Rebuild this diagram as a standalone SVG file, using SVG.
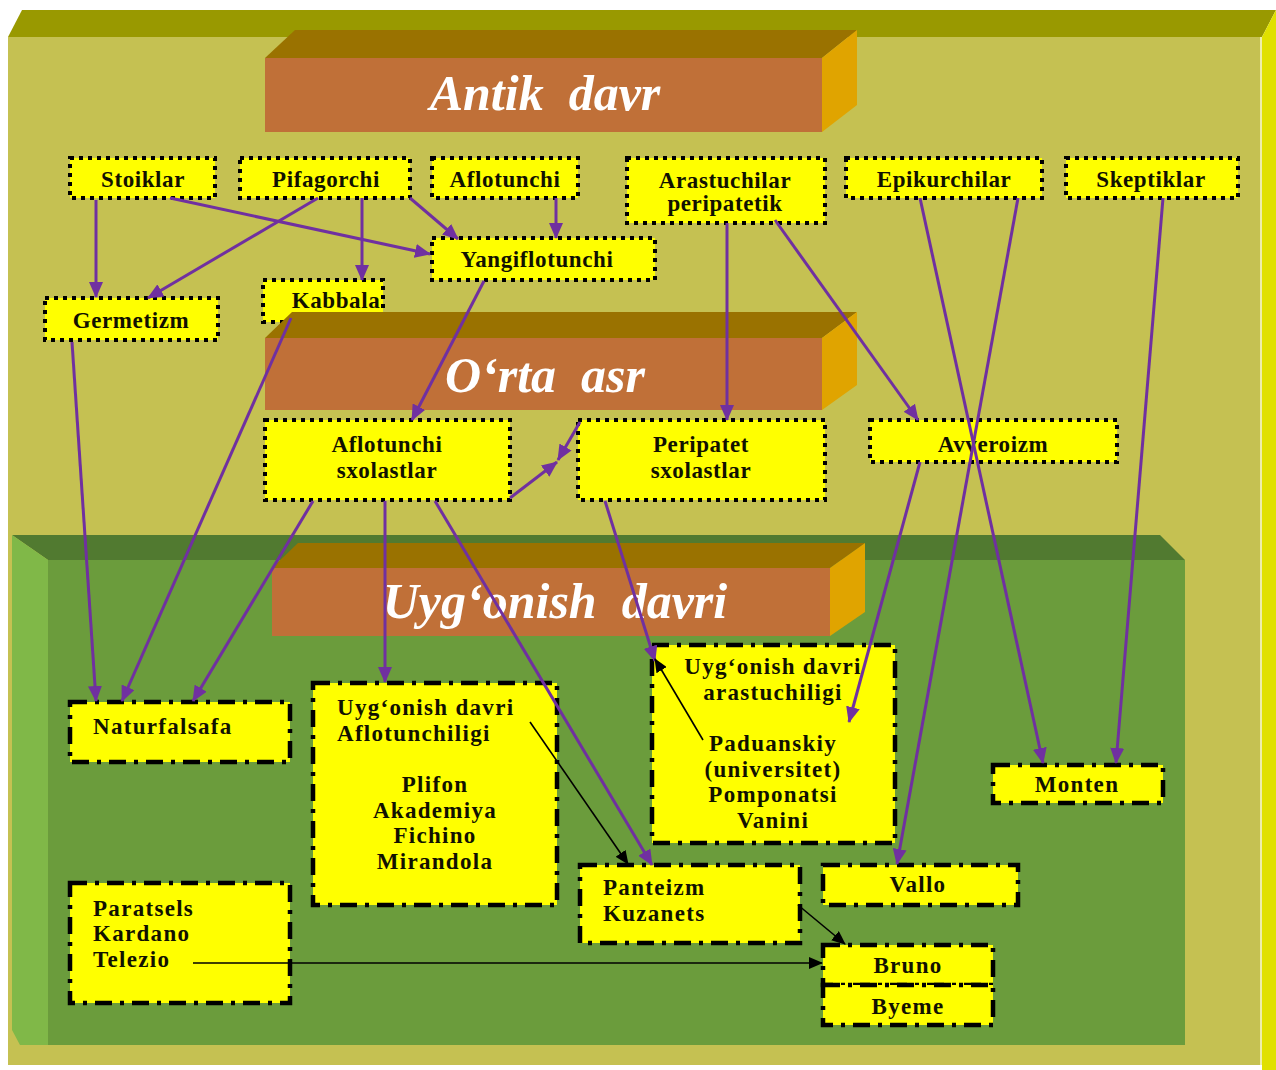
<svg xmlns="http://www.w3.org/2000/svg" width="1276" height="1070" viewBox="0 0 1276 1070">
<style>
.nt{font-family:"Liberation Serif","Times New Roman",serif;font-weight:bold;font-size:23px;fill:#111100;text-anchor:middle;letter-spacing:0.6px}
.nb{font-family:"Liberation Serif","Times New Roman",serif;font-weight:bold;font-size:23px;fill:#111100;text-anchor:middle;letter-spacing:1.3px}
.nl{text-anchor:start}
.ttl{font-family:"Liberation Serif","Times New Roman",serif;font-weight:bold;font-style:italic;font-size:50px;fill:#ffffff;text-anchor:middle}
.dot{fill:#ffff00;stroke:#000;stroke-width:4;stroke-dasharray:4 5}
.dd{fill:#ffff00;stroke:#000;stroke-width:4.5;stroke-dasharray:17 8 4 8}
.bf{fill:#c07038}.bt{fill:#9a7200}.br{fill:#e0a400}
.pe{stroke:#7030a0;stroke-width:3;fill:none;marker-end:url(#pa)}
.be{stroke:#000;stroke-width:1.6;fill:none;marker-end:url(#ba)}
</style>
<defs>
<marker id="pa" markerUnits="userSpaceOnUse" markerWidth="16" markerHeight="14" refX="15" refY="7" orient="auto"><path d="M0,0 L16,7 L0,14 z" fill="#7030a0"/></marker>
<marker id="ba" markerUnits="userSpaceOnUse" markerWidth="14" markerHeight="12" refX="13" refY="6" orient="auto"><path d="M0,0 L14,6 L0,12 z" fill="#000"/></marker>
</defs>
<rect width="1276" height="1070" fill="#ffffff"/>
<g id="frame">
<polygon points="8,37 22,10 1276,10 1262,37" fill="#999900"/>
<polygon points="1262,37 1276,10 1276,1070 1262,1070" fill="#e0e000"/>
<rect x="8" y="37" width="1254" height="1028" fill="#c5c152"/>
<line x1="1261" y1="37" x2="1261" y2="1065" stroke="#eeeeaa" stroke-width="2"/>
</g>
<g id="green-zone">
<polygon points="12,535 1160,535 1185,560 48,560" fill="#517a30"/>
<polygon points="12,535 48,560 48,1045 20,1045 12,1030" fill="#80b848"/>
<rect x="48" y="560" width="1137" height="485" fill="#6b9c3c"/>
</g>
<g id="banner-antik">
<polygon class="bt" points="265,58 295,30 857,30 822,58"/>
<polygon class="br" points="822,58 857,30 857,105 822,132"/>
<rect class="bf" x="265" y="58" width="557" height="74"/>
<text class="ttl" x="545" y="110" xml:space="preserve">Antik  davr</text>
</g>
<g id="n-kabbala"><rect class="dot" x="263" y="280" width="120" height="42"/><text class="nt" x="336" y="308">Kabbala</text></g>
<g id="banner-orta">
<polygon class="bt" points="265,338 292,312 857,312 822,338"/>
<polygon class="br" points="822,338 857,312 857,385 822,410"/>
<rect class="bf" x="265" y="338" width="557" height="72"/>
<text class="ttl" x="545" y="392" xml:space="preserve">O‘rta  asr</text>
</g>
<g id="banner-uygonish">
<polygon class="bt" points="272,568 298,543 865,543 830,568"/>
<polygon class="br" points="830,568 865,543 865,612 830,636"/>
<rect class="bf" x="272" y="568" width="558" height="68"/>
<text class="ttl" x="555" y="618" font-size="47" xml:space="preserve">Uyg‘onish  davri</text>
</g>
<g id="n-stoiklar"><rect class="dot" x="70" y="158" width="145" height="40"/><text class="nt" x="143" y="187">Stoiklar</text></g>
<g id="n-pifagorchi"><rect class="dot" x="240" y="158" width="170" height="40"/><text class="nt" x="326" y="187">Pifagorchi</text></g>
<g id="n-aflotunchi"><rect class="dot" x="432" y="158" width="146" height="40"/><text class="nt" x="505" y="187">Aflotunchi</text></g>
<g id="n-arastuchilar"><rect class="dot" x="627" y="158" width="198" height="65"/><text class="nt" x="725" y="188">Arastuchilar</text><text class="nt" x="725" y="211">peripatetik</text></g>
<g id="n-epikurchilar"><rect class="dot" x="846" y="158" width="196" height="40"/><text class="nt" x="944" y="187">Epikurchilar</text></g>
<g id="n-skeptiklar"><rect class="dot" x="1066" y="158" width="172" height="40"/><text class="nt" x="1151" y="187">Skeptiklar</text></g>
<g id="n-yangiflotunchi"><rect class="dot" x="432" y="238" width="223" height="42"/><text class="nt" x="537" y="267">Yangiflotunchi</text></g>
<g id="n-germetizm"><rect class="dot" x="45" y="298" width="173" height="42"/><text class="nt" x="131" y="328">Germetizm</text></g>
<g id="n-aflotunchi-sx"><rect class="dot" x="265" y="420" width="245" height="80"/><text class="nt" x="387" y="452">Aflotunchi</text><text class="nt" x="387" y="478">sxolastlar</text></g>
<g id="n-peripatet-sx"><rect class="dot" x="578" y="420" width="247" height="80"/><text class="nt" x="701" y="452">Peripatet</text><text class="nt" x="701" y="478">sxolastlar</text></g>
<g id="n-avveroizm"><rect class="dot" x="870" y="420" width="247" height="42"/><text class="nt" x="993" y="452">Avveroizm</text></g>
<g id="n-naturfalsafa"><rect class="dd" x="70" y="702" width="220" height="60"/><text class="nb nl" x="93" y="734">Naturfalsafa</text></g>
<g id="n-uyg-aflotun"><rect class="dd" x="313" y="683" width="244" height="222"/><text class="nb nl" x="337" y="715">Uyg‘onish davri</text><text class="nb nl" x="337" y="741">Aflotunchiligi</text><text class="nb" x="435" y="792">Plifon</text><text class="nb" x="435" y="818">Akademiya</text><text class="nb" x="435" y="843">Fichino</text><text class="nb" x="435" y="869">Mirandola</text></g>
<g id="n-uyg-arastu"><rect class="dd" x="652" y="645" width="243" height="198"/><text class="nb" x="773" y="674">Uyg‘onish davri</text><text class="nb" x="773" y="700">arastuchiligi</text><text class="nb" x="773" y="751">Paduanskiy</text><text class="nb" x="773" y="777">(universitet)</text><text class="nb" x="773" y="802">Pomponatsi</text><text class="nb" x="773" y="828">Vanini</text></g>
<g id="n-monten"><rect class="dd" x="993" y="765" width="170" height="38"/><text class="nb" x="1077" y="792">Monten</text></g>
<g id="n-panteizm"><rect class="dd" x="580" y="865" width="220" height="78"/><text class="nb nl" x="603" y="895">Panteizm</text><text class="nb nl" x="603" y="921">Kuzanets</text></g>
<g id="n-vallo"><rect class="dd" x="823" y="865" width="195" height="40"/><text class="nb" x="918" y="892">Vallo</text></g>
<g id="n-paratsels"><rect class="dd" x="70" y="883" width="220" height="120"/><text class="nb nl" x="93" y="916">Paratsels</text><text class="nb nl" x="93" y="941">Kardano</text><text class="nb nl" x="93" y="967">Telezio</text></g>
<g id="n-bruno"><rect class="dd" x="823" y="945" width="170" height="40"/><text class="nb" x="908" y="973">Bruno</text></g>
<g id="n-byeme"><rect class="dd" x="823" y="985" width="170" height="40"/><text class="nb" x="908" y="1014">Byeme</text></g>
<g id="connectors">
<line class="pe" x1="96" y1="200" x2="96" y2="297"/>
<line class="pe" x1="170" y1="198" x2="430" y2="254"/>
<line class="pe" x1="318" y1="198" x2="148" y2="298"/>
<line class="pe" x1="362" y1="198" x2="362" y2="280"/>
<line class="pe" x1="410" y1="198" x2="458" y2="239"/>
<line class="pe" x1="556" y1="198" x2="556" y2="238"/>
<line class="pe" x1="484" y1="281" x2="412" y2="420"/>
<line class="pe" x1="291" y1="318" x2="122" y2="701"/>
<line class="pe" x1="72" y1="342" x2="96" y2="701"/>
<line class="pe" x1="727" y1="223" x2="727" y2="420"/>
<line class="pe" x1="775" y1="220" x2="918" y2="420"/>
<line class="pe" x1="920" y1="198" x2="1043" y2="763"/>
<line class="pe" x1="1018" y1="198" x2="897" y2="864"/>
<line class="pe" x1="1163" y1="198" x2="1116" y2="763"/>
<line class="pe" x1="920" y1="462" x2="849" y2="722"/>
<line class="pe" x1="313" y1="501" x2="193" y2="701"/>
<line class="pe" x1="385" y1="501" x2="385" y2="682"/>
<line class="pe" x1="435" y1="501" x2="652" y2="865"/>
<line class="pe" x1="605" y1="501" x2="655" y2="661"/>
<line class="pe" x1="510" y1="498" x2="557" y2="462"/>
<line class="pe" x1="580" y1="422" x2="558" y2="460"/>
<line class="be" x1="530" y1="722" x2="628" y2="864"/>
<line class="be" x1="703" y1="740" x2="655" y2="659"/>
<line class="be" x1="798" y1="905" x2="845" y2="944"/>
<line class="be" x1="193" y1="963" x2="822" y2="963"/>
</g>
</svg>
